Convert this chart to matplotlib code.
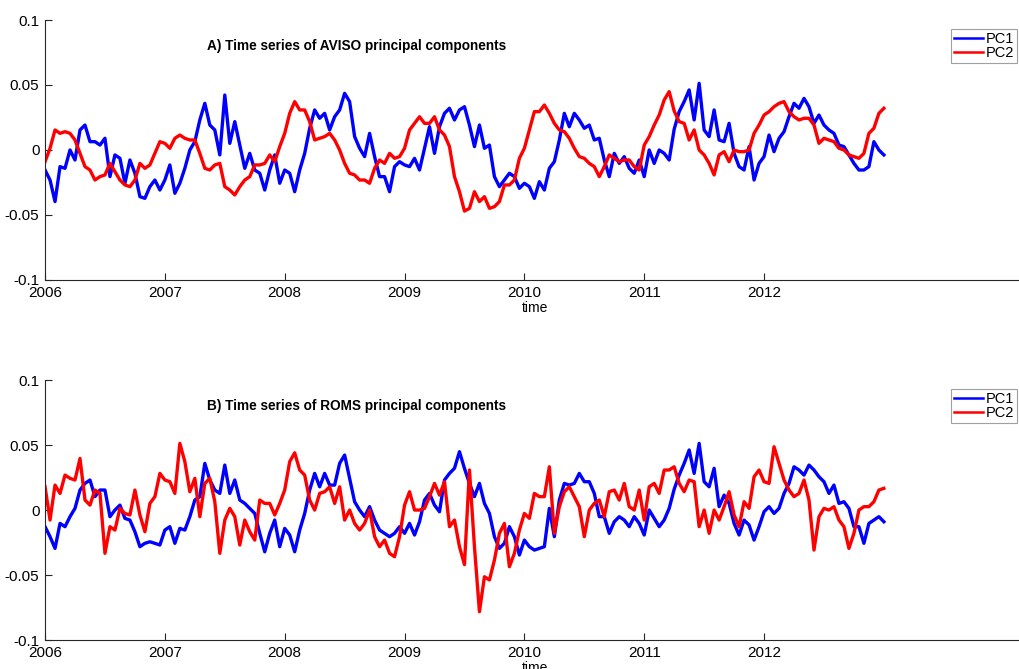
import numpy as np
import matplotlib
matplotlib.use("Agg")
import matplotlib.pyplot as plt

plt.rcParams["font.family"] = ["Liberation Sans", "DejaVu Sans"]

# half-monthly samples, Jan 2006 .. Jan 2013 (values in units of 1e-3)
START_YEAR = 2006
STEPS_PER_YEAR = 24

aviso_pc1 = [
    -15.4, -23.1, -39.7, -12.8, -14.1, 0, -7.7, 15.4, 19.2, 6.4, 6.4, 3.8, 9.0,
    -20.5, -3.8, -6.4, -25.6, -7.7, -17.9, -35.9, -37.2, -28.2, -23.1, -30.8,
    -23.1, -11.5, -33.3, -25.6, -14.1, 0, 6.4, 23.1, 35.9, 19.2, 15.4, -3.8,
    42.3, 5.1, 21.8, 3.8, -14.1, -2.6, -15.4,
    -17.9, -30.8, -15.4, -3.8, -25.6, -15.4, -17.9, -32.1, -15.4, -2.6, 16.7,
    30.8, 24.4, 28.2, 15.4, 25.6, 30.8, 43.6, 37.2, 10.3, 1.3, -5.1, 12.8,
    -5.1, -20.5, -20.5, -32.1, -12.8, -9.0, -11.5, -12.8, -6.4, -15.4, 1.3,
    17.9, -2.6, 17.9, 28.2, 32.1, 23.1, 30.8, 33.3,
    19.2, 2.6, 19.2, 1.3, 3.8, -20.5, -28.2, -23.1, -17.9, -20.5, -29.5, -25.6,
    -28.2, -37.2, -24.4, -30.8, -14.1, -9.0, 7.7, 28.2, 17.9, 28.2, 23.1, 16.7,
    19.2, 7.7, 9.0, -7.7, -20.5, -2.6, -10.3, -5.1, -14.1, -17.9, -7.7, -20.5,
    0, -10.3, 0, -2.6, -7.7, 16,
    29.5, 37.2, 46.2, 23.1, 51.3, 15.4, 10.3, 30.8, 7.7, 6.4, 20.5, -2.6,
    -12.8, -15.4, 2.6, -23.1, -10.3, -5.1, 11.5, -1.3, 9.0, 14.1, 25.6, 35.9,
    32.1, 39.7, 33.3, 20.5, 26.9, 19.2, 15.4, 12.8, 3.8, 2.6, -3.8, -10.3,
    -15.4, -15.4, -12.8, 6.4, 0, -3.8,
]

aviso_pc2 = [
    -9.0, 1.3, 15.4, 12.8, 14.1, 12.8, 7.7, -2.6, -12.8, -15.4, -23.1, -20.5,
    -19.2, -10.3, -16.7, -23.1, -26.9, -28.2, -23.1, -10.3, -14.1, -11.5, -2.6,
    6.4, 5.1, 1.3, 9.0, 11.5, 9.0, 7.7, 7.7, -2.6, -14.1, -15.4, -11.5, -10.3,
    -28.2, -30.8, -34.6, -28.2, -23.1, -20.5, -11.5,
    -11.5, -10.3, -3.8, -9.0, 2.6, 12.8, 28.2, 37.2, 30.8, 30.8, 21.8, 7.7,
    9.0, 10.3, 12.8, 7.7, 0, -10.3, -17.9, -19.2, -23.1, -23.1, -25.6, -14.1,
    -7.7, -10.3, -2.6, -6.4, -5.1, 1.3, 15.4, 20.5, 25.6, 20.5, 20.5, 25.6,
    15.4, 11.5, 2.6, -20.5, -32.1, -47,
    -44.9, -32.1, -39.7, -35.9, -44.9, -43.6, -39.7, -26.9, -26.9, -23.1,
    -6.4, 1.3, 15.4, 29.5, 29.5, 34.6, 28.2, 20.5, 15.4, 14.1, 9.0, 1.3, -5.1,
    -6.4, -10.3, -12.8, -20.5, -12.8, -3.8, -6.4, -9.0, -7.7, -7.7, -12.8,
    -15.4, 3.8, 10.3, 19.2, 26.9, 38.5, 44.9, 30,
    21.8, 20.5, 7.7, 15.4, 0, -3.8, -10.3, -19.2, -3.8, -1.3, -9.0, 0, -1.3,
    -1.3, 0, 12.8, 19.2, 26.9, 29.5, 33.3, 35.9, 37.2, 29.5, 25.6, 23.1, 24.4,
    24.4, 19.2, 5.1, 9.0, 7.7, 6.4, 1.3, 0, -3.8, -5.1, -6.4, -2.6, 12.8,
    16.7, 28.2, 32.1,
]

roms_pc1 = [
    -12.8, -20.5, -29.5, -10.3, -12.8, -5.1, 1.3, 15.4, 20.5, 23.1, 10.3, 15.4,
    15.4, -5.1, 0, 3.8, -6.4, -7.7, -16.7, -28.2, -25.6, -24.4, -25.6, -26.9,
    -15.4, -12.8, -25.6, -14.1, -15.4, -5.1, 7.7, 10.3, 35.9, 23.1, 15.4,
    12.8, 34.6, 12.8, 23.1, 7.7, 5.1, 1.3, -2.6,
    -17.9, -32.1, -17.9, -7.7, -28.2, -14.1, -19.2, -32.1, -15.4, -2.6, 15.4,
    28.2, 17.9, 28.2, 19.2, 19.2, 35.9, 42.3, 24.4, 6.4, 0, -5.1, 2.6, -7.7,
    -15.4, -17.9, -20.5, -17.9, -12.8, -17.9, -10.3, -19.2, -9.0, 7.7, 12.8,
    3.8, -1.3, 23.1, 28.2, 32.1, 44.9, 32,
    20.5, 10.3, 20.5, 5.1, -2.6, -20.5, -29.5, -25.6, -12.8, -20.5, -34.6,
    -23.1, -28.2, -30.8, -29.5, -28.2, 1.3, -20.5, 7.7, 20.5, 19.2, 20.5,
    28.2, 21.8, 21.8, 12.8, -5.1, -5.1, -17.9, -9.0, -5.1, -7.7, -12.8, -5.1,
    -10.3, -19.2, 0, -6.4, -12.8, -7.7, 1.3, 16,
    26.9, 35.9, 46.2, 28.2, 51.3, 21.8, 17.9, 32.1, 2.6, 11.5, 5.1, -10.3,
    -19.2, -7.7, -11.5, -23.1, -12.8, -1.3, 2.6, -2.6, 1.3, 12.8, 20.5, 33.3,
    30.8, 26.9, 34.6, 30.8, 25.6, 21.8, 12.8, 19.2, 5.1, 6.4, 1.3, -12.8,
    -12.8, -25.6, -10.3, -7.7, -5.1, -9.0,
]

roms_pc2 = [
    17.9, -7.7, 19.2, 12.8, 26.9, 24.4, 23.1, 39.7, 7.7, 3.8, 15.4, 12.8,
    -33.3, -12.8, -15.4, 1.3, -2.6, -3.8, 15.4, -3.8, -16.7, 5.1, 10.3, 28.2,
    23.1, 21.8, 12.8, 51.3, 37.2, 14.1, 24.4, -5.1, 20.5, 24.4, 6.4, -33.3,
    -7.7, 1.3, -5.1, -26.9, -7.7, -16.7, -23.1,
    7.7, 5.1, 5.1, -3.8, 5.1, 15.4, 37.2, 44.0, 30.8, 26.9, 7.7, 0, 12.8,
    14.1, 17.9, 5.1, 17.9, -7.7, 0, -10.3, -15.4, -10.3, 0, -20.5, -28.2,
    -23.1, -33.3, -35.9, -20.5, 3.8, 14.1, 0, 0, 1.3, 10.3, 20.5, 11.5, 21.8,
    -12.8, -7.7, -28.2, -42,
    30.8, -28.2, -78.2, -51.3, -53.8, -38.5, -17.9, -10.3, -43.6, -33.3,
    -15.4, -2.6, -6.4, 12.8, 10.3, 10.3, 33.3, -17.9, 2.6, 14.1, 17.9, 10.3,
    2.6, -20.5, 0, 5.1, 7.7, -5.1, 14.1, 15.4, 7.7, 20.5, 2.6, 0, 15.4, -7.7,
    17.9, 20.5, 12.8, 30.8, 30.8, 33.3,
    20.5, 14.1, 23.1, 21.8, -12.8, 0, -17.9, 0, -7.7, 2.6, 14.1, -3.8, -12.8,
    6.4, 1.3, 25.6, 30.8, 21.8, 20.5, 48.7, 35.9, 23.1, 15.4, 10.3, 12.8,
    23.1, 7.7, -30.8, -5.1, 1.3, 0, 2.6, -7.7, -12.8, -29.5, -17.9, 0, 2.6,
    2.6, 6.4, 15.4, 16.7,
]

panel_titles = [
    "A) Time series of AVISO principal components",
    "B) Time series of ROMS principal components",
]
year_ticks = [2006, 2007, 2008, 2009, 2010, 2011, 2012]
y_ticks = [-0.1, -0.05, 0, 0.05, 0.1]
y_tick_labels = ["-0.1", "-0.05", "0", "0.05", "0.1"]


def time_axis(n):
    return START_YEAR + np.arange(n) / STEPS_PER_YEAR


def draw_panel(ax, pc1, pc2, title):
    t = time_axis(len(pc1))
    ax.plot(t, np.array(pc1) / 1000, color="#0000ff", lw=2.4, label="PC1")
    ax.plot(t, np.array(pc2) / 1000, color="#ff0000", lw=2.4, label="PC2")

    ax.set_xlim(2006, 2014.17)
    ax.set_ylim(-0.1, 0.1)
    ax.set_xticks(year_ticks)
    ax.set_xticklabels([str(y) for y in year_ticks])
    ax.set_yticks(y_ticks)
    ax.set_yticklabels(y_tick_labels)
    ax.set_xlabel("time", fontsize=10, labelpad=1)

    for side in ("top", "right"):
        ax.spines[side].set_visible(False)
    for side in ("left", "bottom"):
        ax.spines[side].set_color("#262626")
        ax.spines[side].set_linewidth(0.8)
    ax.tick_params(direction="in", length=5, width=0.8, color="#262626",
                   labelsize=11, pad=4)

    ax.text(0.318, 0.9, title, transform=ax.transAxes, ha="center",
            va="center", fontsize=9.8, fontweight="bold")

    leg = ax.legend(loc="upper right", bbox_to_anchor=(0.993, 0.965),
                    borderaxespad=0, fancybox=False, framealpha=1,
                    fontsize=10.5, handlelength=2.0, handletextpad=0.2,
                    labelspacing=0.0, borderpad=0.2)
    leg.get_frame().set_edgecolor("#a0a0a0")
    leg.get_frame().set_linewidth(0.8)
    for line in leg.get_lines():
        line.set_linewidth(1.8)


fig = plt.figure(figsize=(10.19, 6.69), dpi=100)
ax_top = fig.add_axes([0.0442, 0.5815, 0.9608, 0.3886])
ax_bot = fig.add_axes([0.0442, 0.0433, 0.9608, 0.3886])

draw_panel(ax_top, aviso_pc1, aviso_pc2, panel_titles[0])
draw_panel(ax_bot, roms_pc1, roms_pc2, panel_titles[1])

fig.savefig("out.png", dpi=100)
